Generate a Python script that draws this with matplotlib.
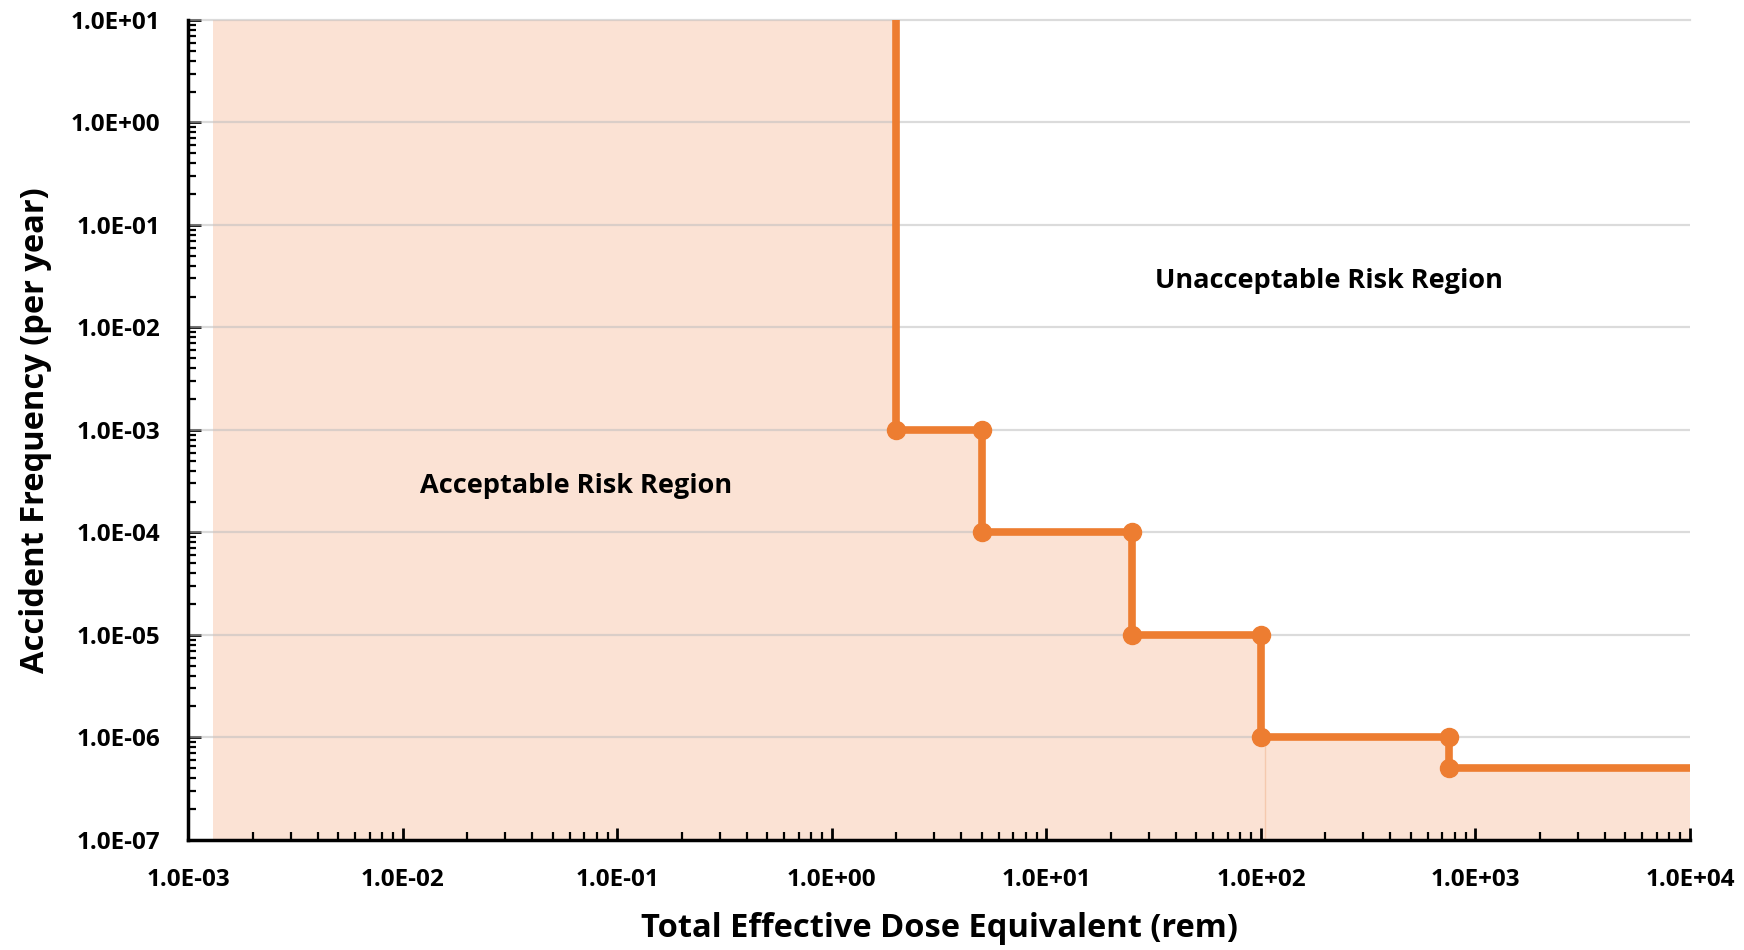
import numpy as np
import matplotlib
matplotlib.use("Agg")
import matplotlib.pyplot as plt
from matplotlib.ticker import FixedLocator, FuncFormatter, NullFormatter

# --------------------------------------------------
# Data
# --------------------------------------------------

dose_steps = [2, 5, 25, 100, 750]            # rem, where the limit drops
freq_steps = [1e-3, 1e-4, 1e-5, 1e-6, 5e-7]  # per year, level after the drop

x_min, x_max = 1e-3, 1e4
y_min, y_max = 1e-7, 1e1
fill_start = 1.3e-3

x_decades = [-3, -2, -1, 0, 1, 2, 3, 4]
y_decades = [-7, -6, -5, -4, -3, -2, -1, 0, 1]

# step line vertices
line_x = [dose_steps[0]]
line_y = [y_max]
prev = y_max
for i, (d, f) in enumerate(zip(dose_steps, freq_steps)):
    if i > 0:
        line_x.append(d)
        line_y.append(prev)
    line_x.append(d)
    line_y.append(f)
    prev = f
line_x.append(x_max)
line_y.append(freq_steps[-1])

# fill outline (step post)
fill_x = [fill_start] + dose_steps + [x_max]
fill_y = [y_max] + freq_steps + [freq_steps[-1]]

orange = "#ED7D31"
fill_col = "#FBE2D4"

plt.rcParams["font.family"] = ["Open Sans", "DejaVu Sans"]

fig = plt.figure(figsize=(17.44, 9.5), dpi=100)
ax = fig.add_axes([0.108, 0.116, 0.861, 0.863])

ax.set_xscale("log")
ax.set_yscale("log")
ax.set_xlim(x_min, x_max)
ax.set_ylim(y_min, y_max)

ax.fill_between(fill_x, y_min, fill_y, step="post", color=fill_col,
                linewidth=0, zorder=1)
ax.axvline(104, ymin=0, ymax=0.125, color="#F5C9AE", lw=1, zorder=1.5)

ax.plot(line_x, line_y, color=orange, lw=5.5, zorder=3, solid_capstyle="butt")
ax.plot(line_x[1:-1], line_y[1:-1], "o", color=orange, ms=13, zorder=4)

# gridlines
for e in y_decades[1:-1]:
    ax.axhline(10.0 ** e, color="#BFBFBF", lw=1.6, alpha=0.55, zorder=2)
ax.axhline(10.0 ** y_decades[-1], color="#BFBFBF", lw=1.6, alpha=0.55, zorder=2,
           clip_on=False)

# ticks (only inside the view)
def minors(decades):
    return [m * 10.0 ** d for d in decades[:-1] for m in range(2, 10)]

fmt = FuncFormatter(lambda v, p: f"{v:.1E}")
ax.xaxis.set_major_locator(FixedLocator([10.0 ** d for d in x_decades]))
ax.yaxis.set_major_locator(FixedLocator([10.0 ** d for d in y_decades]))
ax.xaxis.set_minor_locator(FixedLocator(minors(x_decades)))
ax.yaxis.set_minor_locator(FixedLocator(minors(y_decades)))
ax.xaxis.set_major_formatter(fmt)
ax.yaxis.set_major_formatter(fmt)
ax.xaxis.set_minor_formatter(NullFormatter())
ax.yaxis.set_minor_formatter(NullFormatter())

ax.tick_params(which="major", direction="in", length=9, width=2, color="black",
               labelsize=17.5)
ax.tick_params(which="minor", direction="in", length=6, width=1.6, color="black")
ax.tick_params(axis="x", which="major", pad=20)
ax.tick_params(axis="y", which="major", pad=20)
for lab in ax.get_xticklabels() + ax.get_yticklabels():
    lab.set_fontweight("bold")

for s in ["top", "right"]:
    ax.spines[s].set_visible(False)
for s in ["left", "bottom"]:
    ax.spines[s].set_linewidth(2.5)
    ax.spines[s].set_zorder(5)

ax.set_xlabel("Total Effective Dose Equivalent (rem)", fontsize=23.5,
              fontweight="bold")
ax.set_ylabel("Accident Frequency (per year)", fontsize=23.5,
              fontweight="bold")
ax.xaxis.label.set_va("center")
ax.yaxis.label.set_va("center")
ax.xaxis.set_label_coords(0.5, -0.108)
ax.yaxis.set_label_coords(-0.102, 0.5)

ax.text(0.064, 1e-4 * 10 ** 0.45, "Acceptable Risk Region", fontsize=19.5,
        fontweight="bold", ha="center", va="center", zorder=6)
ax.text(207, 1e-2 * 10 ** 0.45, "Unacceptable Risk Region", fontsize=19.5,
        fontweight="bold", ha="center", va="center", zorder=6)

fig.savefig("out.png", dpi=100)
